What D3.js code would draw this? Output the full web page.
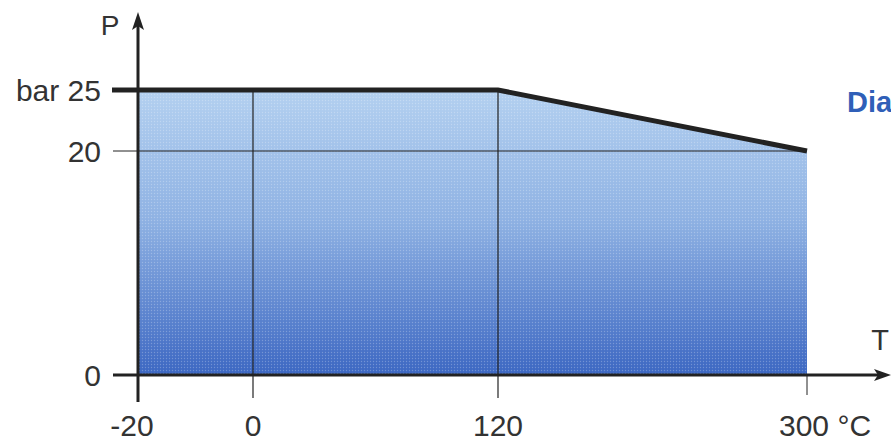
<!DOCTYPE html>
<html><head><meta charset="utf-8">
<script src="https://cdn.jsdelivr.net/npm/d3@7"></script>
<style>body{margin:0;background:#fff}svg{display:block}text{font-family:"Liberation Sans",Arial,sans-serif}</style>
</head><body>
<script>
const temps = [-20, 0, 120, 300];
const pressure = [25, 25, 25, 20];
const xTicks = [-20, 0, 120, 300];
const xTickLabels = ["-20", "0", "120", "300 °C"];
const yTicks = [0, 20, 25];
const yTickLabels = ["0", "20", "bar 25"];
const yAxisTitle = "P";
const xAxisTitle = "T";
const sideText = "Dia";

const W = 891, H = 446;
const svg = d3.select("body").append("svg").attr("width", W).attr("height", H);
const x = d3.scaleLinear().domain([-20, 0, 120, 300]).range([138, 253, 498, 807]);
const y = d3.scaleLinear().domain([0, 20, 25]).range([375, 151, 90]);
const data = temps.map((t, i) => ({t, p: pressure[i]}));

const defs = svg.append("defs");
const grad = defs.append("linearGradient").attr("id", "g").attr("x1", 0).attr("y1", 0).attr("x2", 0).attr("y2", 1);
grad.append("stop").attr("offset", "0%").attr("stop-color", "#b3d0f0");
grad.append("stop").attr("offset", "45%").attr("stop-color", "#8fb2e3");
grad.append("stop").attr("offset", "100%").attr("stop-color", "#3c67c2");
const pat = defs.append("pattern").attr("id", "dots").attr("width", 3).attr("height", 3).attr("patternUnits", "userSpaceOnUse");
pat.append("rect").attr("width", 3).attr("height", 3).attr("fill", "url(#g)");

const area = d3.area().x(d => x(d.t)).y0(y(0)).y1(d => y(d.p));
svg.append("path").datum(data).attr("d", area).attr("fill", "url(#g)");
// halftone texture
svg.append("defs").append("clipPath").attr("id", "clip").append("path").datum(data).attr("d", area);
const tex = defs.append("pattern").attr("id", "tex").attr("width", 3).attr("height", 3).attr("patternUnits", "userSpaceOnUse");
tex.append("circle").attr("cx", 1.5).attr("cy", 1.5).attr("r", 0.7).attr("fill", "#ffffff").attr("opacity", 0.25);
svg.append("path").datum(data).attr("d", area).attr("fill", "url(#tex)");

const ink = "#222";
// gridline at 20
svg.append("line").attr("x1", 113).attr("x2", x(300)).attr("y1", y(20)).attr("y2", y(20)).attr("stroke", ink).attr("stroke-width", 1);
// vertical gridlines
[0, 120].forEach(t => {
  svg.append("line").attr("x1", x(t)).attr("x2", x(t)).attr("y1", y(25)).attr("y2", 398).attr("stroke", ink).attr("stroke-width", 1.2);
});
svg.append("line").attr("x1", x(300)).attr("x2", x(300)).attr("y1", y(0)).attr("y2", 395).attr("stroke", ink).attr("stroke-width", 1);

// x axis
svg.append("line").attr("x1", 113).attr("x2", 880).attr("y1", y(0)).attr("y2", y(0)).attr("stroke", ink).attr("stroke-width", 3);
svg.append("path").attr("d", `M891,${y(0)} L874,${y(0)-6} L878,${y(0)} L874,${y(0)+6} Z`).attr("fill", ink);
// y axis
svg.append("line").attr("x1", x(-20)).attr("x2", x(-20)).attr("y1", 402).attr("y2", 24).attr("stroke", ink).attr("stroke-width", 3);
svg.append("path").attr("d", `M${x(-20)},12 L${x(-20)-6},30 L${x(-20)},26 L${x(-20)+6},30 Z`).attr("fill", ink);

// top boundary line
const line = d3.line().x(d => x(d.t)).y(d => y(d.p));
svg.append("path").datum(data).attr("d", line).attr("fill", "none").attr("stroke", ink).attr("stroke-width", 5).attr("stroke-linejoin", "miter");
svg.append("line").attr("x1", 112).attr("x2", x(-20)).attr("y1", y(25)).attr("y2", y(25)).attr("stroke", ink).attr("stroke-width", 5);

const txt = "#333";
// y tick labels
yTicks.forEach((v, i) => {
  svg.append("text").attr("x", 101).attr("y", y(v)).attr("dy", "0.36em").attr("text-anchor", "end")
    .attr("font-size", 30).attr("fill", txt).text(yTickLabels[i]);
});
// x tick labels
xTicks.forEach((v, i) => {
  const lbl = xTickLabels[i];
  const t = svg.append("text").attr("y", 436).attr("font-size", 30).attr("fill", txt);
  if (i === xTicks.length - 1) t.attr("x", x(v) - 28).attr("text-anchor", "start").text(lbl);
  else t.attr("x", v === -20 ? x(v) - 6 : x(v)).attr("text-anchor", "middle").text(lbl);
});
svg.append("text").attr("x", 110).attr("y", 35).attr("text-anchor", "middle").attr("font-size", 28).attr("fill", txt).text(yAxisTitle);
svg.append("text").attr("x", 880).attr("y", 350).attr("text-anchor", "middle").attr("font-size", 29).attr("fill", txt).text(xAxisTitle);
svg.append("text").attr("x", 847).attr("y", 112).attr("font-size", 29).attr("font-weight", "bold").attr("fill", "#2f5fb8").text(sideText);
</script>
</body></html>
